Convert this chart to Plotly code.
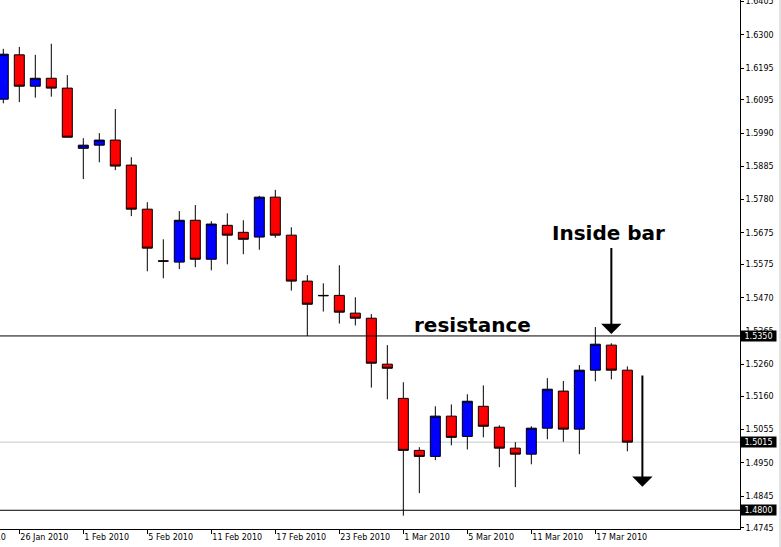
import plotly.graph_objects as go

# ---- data ----
dates = [
    "2010-01-25", "2010-01-26", "2010-01-27", "2010-01-28", "2010-01-29",
    "2010-02-01", "2010-02-02", "2010-02-03", "2010-02-04", "2010-02-05",
    "2010-02-08", "2010-02-09", "2010-02-10", "2010-02-11", "2010-02-12",
    "2010-02-15", "2010-02-16", "2010-02-17", "2010-02-18", "2010-02-19",
    "2010-02-22", "2010-02-23", "2010-02-24", "2010-02-25", "2010-02-26",
    "2010-03-01", "2010-03-02", "2010-03-03", "2010-03-04", "2010-03-05",
    "2010-03-08", "2010-03-09", "2010-03-10", "2010-03-11", "2010-03-12",
    "2010-03-15", "2010-03-16", "2010-03-17", "2010-03-18", "2010-03-19",
]
opens = [
    1.6097, 1.6237, 1.6138, 1.6163, 1.6132, 1.5942, 1.5952, 1.5968, 1.5889, 1.5750,
    1.5587, 1.5583, 1.5715, 1.5592, 1.5699, 1.5677, 1.5662, 1.5788, 1.5668, 1.5523,
    1.5478, 1.5478, 1.5422, 1.5406, 1.5261, 1.5153, 1.4989, 1.4970, 1.5097, 1.5033,
    1.5128, 1.5062, 1.4996, 1.4977, 1.5059, 1.5176, 1.5056, 1.5242, 1.5321, 1.5242,
]
highs = [
    1.6256, 1.6262, 1.6237, 1.6272, 1.6173, 1.5974, 1.5990, 1.6066, 1.5914, 1.5772,
    1.5655, 1.5744, 1.5763, 1.5712, 1.5737, 1.5715, 1.5792, 1.5811, 1.5693, 1.5542,
    1.5516, 1.5573, 1.5472, 1.5419, 1.5321, 1.5204, 1.4999, 1.5128, 1.5134, 1.5166,
    1.5194, 1.5068, 1.5015, 1.5065, 1.5217, 1.5208, 1.5258, 1.5378, 1.5327, 1.5254,
]
lows = [
    1.6084, 1.6088, 1.6102, 1.6105, 1.5976, 1.5845, 1.5898, 1.5873, 1.5728, 1.5554,
    1.5532, 1.5561, 1.5567, 1.5557, 1.5576, 1.5608, 1.5622, 1.5660, 1.5493, 1.5350,
    1.5427, 1.5389, 1.5383, 1.5187, 1.5150, 1.4783, 1.4854, 1.4958, 1.5005, 1.4992,
    1.5030, 1.4936, 1.4873, 1.4945, 1.5024, 1.5016, 1.4977, 1.5207, 1.5213, 1.4986,
]
closes = [
    1.6239, 1.6138, 1.6163, 1.6132, 1.5977, 1.5952, 1.5968, 1.5886, 1.5750, 1.5627,
    1.5586, 1.5715, 1.5592, 1.5703, 1.5668, 1.5655, 1.5788, 1.5668, 1.5523, 1.5450,
    1.5477, 1.5425, 1.5406, 1.5264, 1.5248, 1.4989, 1.4970, 1.5097, 1.5030, 1.5144,
    1.5065, 1.4996, 1.4977, 1.5059, 1.5182, 1.5056, 1.5242, 1.5324, 1.5242, 1.5015,
]

x_tick_dates = ["2010-01-26", "2010-02-01", "2010-02-05", "2010-02-11", "2010-02-17",
                "2010-02-23", "2010-03-01", "2010-03-05", "2010-03-11", "2010-03-17"]
x_tick_labels = ["26 Jan 2010", "1 Feb 2010", "5 Feb 2010", "11 Feb 2010", "17 Feb 2010",
                 "23 Feb 2010", "1 Mar 2010", "5 Mar 2010", "11 Mar 2010", "17 Mar 2010"]
y_tick_values = [1.6405, 1.6300, 1.6195, 1.6095, 1.5990, 1.5885, 1.5780, 1.5675, 1.5575,
                 1.5470, 1.5365, 1.5260, 1.5160, 1.5055, 1.4950, 1.4845, 1.4745]

resistance_level = 1.5350
support_level = 1.4800
current_price = 1.5015

# annotation anchor values (candle index / price)
inside_bar_arrow = dict(x=38, tail=1.5632, tip=1.5356)
down_arrow = dict(x=39.94, tail=1.5230, tip=1.4874)

FONT = "DejaVu Sans"

fig = go.Figure()
fig.add_trace(go.Candlestick(
    x=dates, open=opens, high=highs, low=lows, close=closes,
    increasing=dict(fillcolor="#0000FF", line=dict(color="black", width=1)),
    decreasing=dict(fillcolor="#FF0000", line=dict(color="black", width=1)),
    whiskerwidth=0,
    showlegend=False, hoverinfo="skip",
))

# horizontal level lines
fig.add_shape(type="line", xref="paper", x0=0, x1=1, yref="y", y0=current_price, y1=current_price,
              line=dict(color="#c3cad2", width=1), layer="below")
for lvl in (resistance_level, support_level):
    fig.add_shape(type="line", xref="paper", x0=0, x1=1, yref="y", y0=lvl, y1=lvl,
                  line=dict(color="black", width=1), layer="above")
# window edge line
fig.add_shape(type="line", xref="paper", x0=1.0541, x1=1.0541, yref="paper", y0=-0.04, y1=1,
              line=dict(color="#c8c8c8", width=1), layer="above")

# black price boxes on the right axis
for lvl in (resistance_level, current_price, support_level):
    fig.add_annotation(xref="paper", x=1.0, xanchor="left", yref="y", y=lvl, yanchor="middle",
                       text=f"{lvl:.4f}", showarrow=False, bgcolor="black",
                       font=dict(family=FONT, size=8, color="white"),
                       width=33, height=8, borderpad=1, align="center")

# text labels
fig.add_annotation(xref="x", x=37.85, yref="y", y=1.5675, text="Inside bar", showarrow=False,
                   font=dict(family=FONT, size=20, color="black", weight="bold"))
fig.add_annotation(xref="x", x=29.3, yref="y", y=1.5386, text="resistance", showarrow=False,
                   font=dict(family=FONT, size=20, color="black", weight="bold"))

# arrows
for arr in (inside_bar_arrow, down_arrow):
    fig.add_annotation(xref="x", yref="y", x=arr["x"], y=arr["tip"],
                       axref="x", ayref="y", ax=arr["x"], ay=arr["tail"],
                       text="", showarrow=True, arrowhead=1, arrowsize=1.7,
                       arrowwidth=2, arrowcolor="black", standoff=0)

# partially visible first date label
fig.add_annotation(xref="paper", x=-43.7 / 740, xanchor="left", yref="paper", y=0, yanchor="top",
                   yshift=-2, text="20 Jan 2010", showarrow=False,
                   font=dict(family=FONT, size=8, color="black"))

fig.update_layout(
    width=781, height=547, autosize=False,
    margin=dict(l=0, r=41, t=0, b=18, pad=0),
    paper_bgcolor="white", plot_bgcolor="white",
    boxgap=0.375, boxgroupgap=0,
    font=dict(family=FONT, size=8, color="black"),
    xaxis=dict(
        type="category", range=[-0.206, 46.04], rangeslider=dict(visible=False),
        showgrid=False, zeroline=False, showline=True, linecolor="black", linewidth=1,
        ticks="outside", ticklen=4, tickcolor="black", tickwidth=1,
        tickvals=x_tick_dates, ticktext=x_tick_labels,
        ticklabelposition="outside right",
        tickfont=dict(family=FONT, size=8, color="black"),
        automargin=False, fixedrange=True,
    ),
    yaxis=dict(
        side="right", range=[1.47409, 1.6410],
        showgrid=False, zeroline=False, showline=True, linecolor="black", linewidth=1,
        ticks="outside", ticklen=3, tickcolor="black", tickwidth=1,
        tickvals=y_tick_values, ticktext=[f"{v:.4f}" for v in y_tick_values],
        ticklabeloverflow="allow",
        tickfont=dict(family=FONT, size=8, color="black"),
        automargin=False, fixedrange=True,
    ),
)

fig.write_html(
    "out.html",
    config={"displayModeBar": False},
    post_script="document.body.style.margin='0';document.body.style.overflow='hidden';",
)
